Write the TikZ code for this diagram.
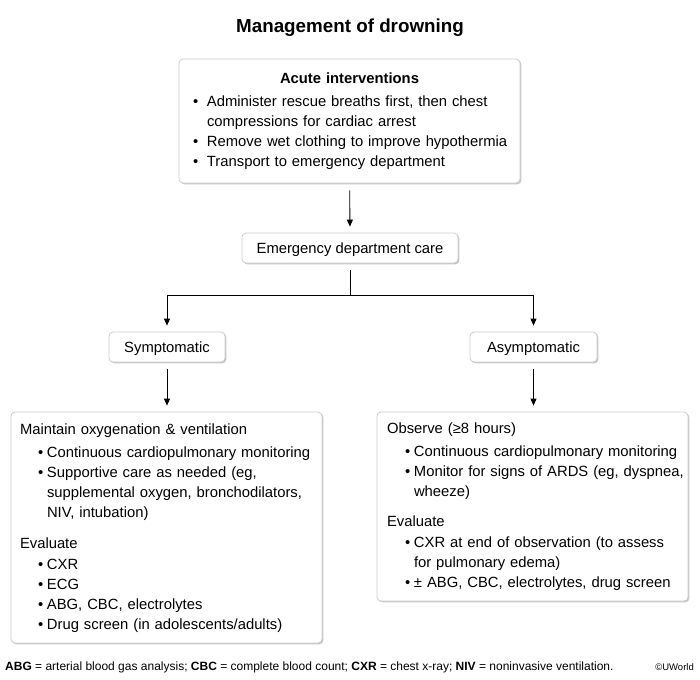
\documentclass[tikz,border=0pt]{standalone}
\usepackage{fontspec}
\setmainfont{Liberation Sans}
\usetikzlibrary{arrows.meta,shadows}
\setlength{\parindent}{0pt}

\newcommand{\itm}{\hspace*{18pt}\makebox[9pt][l]{\textbullet}}
\newcommand{\hang}{\hspace*{27pt}}
\newcommand{\titm}{\makebox[14pt][l]{\textbullet}}

\begin{document}
\begin{tikzpicture}[x=1pt,y=-1pt,
  box/.style={draw=black!20, fill=white, rounded corners=4pt, line width=0.8pt,
    drop shadow={shadow xshift=1.3pt, shadow yshift=-1.3pt, fill=black!45},
    inner ysep=0pt, font=\fontsize{14.8}{20}\selectfont},
  smallbox/.style={box, minimum height=30pt, inner xsep=4pt, text height=11pt, text depth=0pt},
  bigbox/.style={box, inner xsep=9pt, align=left},
  link/.style={line width=0.8pt, -{Triangle[length=7pt,width=6pt]},
    shorten <=7pt, shorten >=6pt}]
\useasboundingbox (0,0) rectangle (700,679);

\node[font=\fontsize{18.8}{22}\selectfont\bfseries] (title) at (350,28) {Management of drowning};

\node[box, align=left, inner xsep=14pt, text width=313pt, minimum height=124pt] (acute) at (349.5,121)
  {\begin{tabular}{@{}l@{}}
   \makebox[313pt][c]{\textbf{Acute interventions}}\\[3pt]
   \titm Administer rescue breaths first, then chest\\
   \hspace*{14pt}compressions for cardiac arrest\\
   \titm Remove wet clothing to improve hypothermia\\
   \titm Transport to emergency department
   \end{tabular}};

\node[smallbox, minimum width=216pt] (ed) at (350,248) {Emergency department care};
\node[smallbox, minimum width=116pt] (sym) at (167,347) {Symptomatic};
\node[smallbox, minimum width=127pt] (asym) at (533.5,347) {Asymptomatic};

\node[bigbox, text width=293pt, minimum height=231pt] (symcare) at (166.5,527.5)
  {\begin{tabular}{@{}l@{}}
   Maintain oxygenation \& ventilation\\[3pt]
   \itm Continuous cardiopulmonary monitoring\\
   \itm Supportive care as needed (eg,\\
   \hang supplemental oxygen, bronchodilators,\\
   \hang NIV, intubation)\\[11pt]
   Evaluate\\[1pt]
   \itm CXR\\
   \itm ECG\\
   \itm ABG, CBC, electrolytes\\
   \itm Drug screen (in adolescents/adults)
   \end{tabular}};

\node[bigbox, inner xsep=10pt, text width=291pt, minimum height=189pt] (asymcare) at (532.5,506.5)
  {\begin{tabular}{@{}l@{}}
   Observe (≥8 hours)\\[3pt]
   \itm Continuous cardiopulmonary monitoring\\
   \itm Monitor for signs of ARDS (eg, dyspnea,\\
   \hang wheeze)\\[10pt]
   Evaluate\\[1pt]
   \itm CXR at end of observation (to assess\\
   \hang for pulmonary edema)\\
   \itm ± ABG, CBC, electrolytes, drug screen
   \end{tabular}};

\node[anchor=west, inner sep=0pt, font=\fontsize{12}{14}\selectfont] (abbr) at (5,667)
  {\textbf{ABG} = arterial blood gas analysis; \textbf{CBC} = complete blood count; \textbf{CXR} = chest x-ray; \textbf{NIV} = noninvasive ventilation.};
\node[anchor=east, inner sep=0pt, font=\fontsize{9.5}{11}\selectfont] (copy) at (694,667) {©UWorld};

\coordinate (split) at (350,295);

\draw[link] (acute) -- (ed);
\draw[link] (ed.south) -- (split) -| (sym.north);
\draw[link] (ed.south) -- (split) -| (asym.north);
\draw[link] (sym.south) -- (symcare.north -| sym.south);
\draw[link] (asym.south) -- (asymcare.north -| asym.south);
\end{tikzpicture}
\end{document}
